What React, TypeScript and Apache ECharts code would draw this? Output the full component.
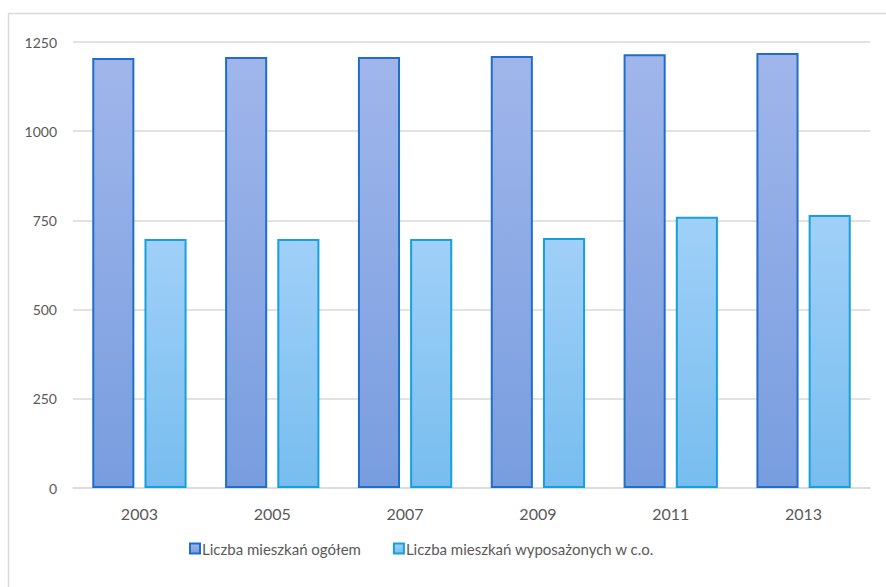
import React, { useEffect, useRef } from "react";
import * as echarts from "echarts";

const categories = ["2003", "2005", "2007", "2009", "2011", "2013"];
const seriesNames = ["Liczba mieszkań ogółem", "Liczba mieszkań wyposażonych w c.o."];
const totalFlats = [1205, 1208, 1208, 1211, 1216, 1219];
const heatedFlats = [698, 698, 698, 701, 760, 765];
const yTicks = { min: 0, max: 1250, interval: 250 };

const FONT = "Lato, 'Open Sans', sans-serif";

export default function App() {
  const ref = useRef<HTMLDivElement>(null);
  useEffect(() => {
    if (!ref.current) return;
    const chart = echarts.init(ref.current, null, { renderer: "svg" });
    chart.setOption({
      animation: false,
      backgroundColor: "#ffffff",
      textStyle: { fontFamily: FONT },
      graphic: [
        { type: "line", shape: { x1: 8, y1: 13.5, x2: 886, y2: 13.5 }, style: { stroke: "#d9d9d9", lineWidth: 1.5 } },
        { type: "line", shape: { x1: 8.5, y1: 13, x2: 8.5, y2: 587 }, style: { stroke: "#d9d9d9", lineWidth: 1.5 } },
      ],
      grid: { left: 73, right: 16, top: 42, bottom: 99, containLabel: false },
      legend: {
        bottom: 26,
        left: 184,
        itemWidth: 10,
        itemHeight: 10,
        itemGap: 32,
        icon: "rect",
        textStyle: { color: "#595959", fontSize: 15, fontFamily: FONT, padding: [0, 0, 0, -3] },
        data: seriesNames,
      },
      xAxis: {
        type: "category",
        data: categories,
        axisLine: { lineStyle: { color: "#d9d9d9", width: 1.5 } },
        axisTick: { show: false },
        axisLabel: { color: "#595959", fontSize: 16, margin: 17, fontFamily: FONT },
      },
      yAxis: {
        type: "value",
        min: yTicks.min,
        max: yTicks.max,
        interval: yTicks.interval,
        axisLine: { show: false },
        axisTick: { show: false },
        axisLabel: {
          color: "#595959",
          fontSize: 14,
          margin: 16,
          fontFamily: FONT,
          formatter: (v: number) => String(v),
        },
        splitLine: { lineStyle: { color: "#d9d9d9", width: 1.5 } },
      },
      series: [
        {
          name: seriesNames[0],
          type: "bar",
          data: totalFlats,
          barWidth: "31.7%",
          barGap: "24%",
          itemStyle: {
            color: new echarts.graphic.LinearGradient(0, 0, 0, 1, [
              { offset: 0, color: "#a0b6eb" },
              { offset: 1, color: "#789ddf" },
            ]),
            borderColor: "#1f6fc8",
            borderWidth: 2,
          },
        },
        {
          name: seriesNames[1],
          type: "bar",
          data: heatedFlats,
          barWidth: "31.7%",
          itemStyle: {
            color: new echarts.graphic.LinearGradient(0, 0, 0, 1, [
              { offset: 0, color: "#a0d0f8" },
              { offset: 1, color: "#77bdef" },
            ]),
            borderColor: "#16a0dc",
            borderWidth: 2,
          },
        },
      ],
    });
    return () => chart.dispose();
  }, []);
  return (
    <div
      ref={ref}
      style={{ position: "fixed", left: 0, top: 0, width: 886, height: 587 }}
    />
  );
}
